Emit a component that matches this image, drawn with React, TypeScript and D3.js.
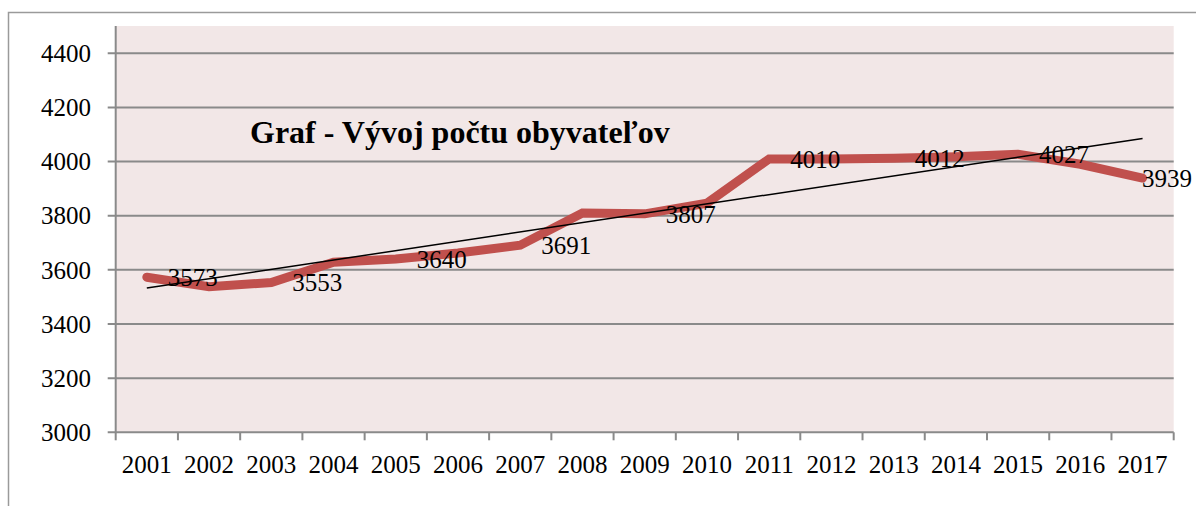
import React, { useEffect, useRef } from 'react';
import * as d3 from 'd3';

const years = ['2001', '2002', '2003', '2004', '2005', '2006', '2007', '2008', '2009',
  '2010', '2011', '2012', '2013', '2014', '2015', '2016', '2017'];
const population = [3573, 3538, 3553, 3628, 3640, 3662, 3691, 3810, 3807,
  3846, 4010, 4010, 4012, 4018, 4027, 3990, 3939];
// only every other point carries a label in the original
const labelledYears = ['2001', '2003', '2005', '2007', '2009', '2011', '2013', '2015', '2017'];
const yTicks = [3000, 3200, 3400, 3600, 3800, 4000, 4200, 4400];
const title = 'Graf - Vývoj počtu obyvateľov';

const W = 1196;
const H = 506;

export default function App() {
  const svgRef = useRef<SVGSVGElement>(null);

  useEffect(() => {
    if (!svgRef.current) return;
    const svg = d3.select(svgRef.current);
    svg.selectAll('*').remove();

    const font = '"Times New Roman", "Liberation Serif", serif';
    const gridColor = '#8a8a8a';
    const lineColor = '#c0504d';

    const plot = { left: 115.7, right: 1173.7, top: 26, bottom: 432.3 };

    const x = d3.scaleBand().domain(years).range([plot.left, plot.right]).padding(0);
    const cx = (yr: string) => x(yr)! + x.bandwidth() / 2;
    const y = d3.scaleLinear().domain([3000, 4400]).range([plot.bottom, 53.3]);

    // outer chart border (left + top visible)
    svg.append('path')
      .attr('d', `M8.5,${H} L8.5,12.5 L${W},12.5`)
      .attr('fill', 'none')
      .attr('stroke', '#9a9a9a')
      .attr('stroke-width', 1.5);

    // plot area
    svg.append('rect')
      .attr('x', plot.left)
      .attr('y', plot.top)
      .attr('width', plot.right - plot.left)
      .attr('height', plot.bottom - plot.top)
      .attr('fill', '#f2e7e7');

    // gridlines
    svg.append('g')
      .selectAll('line')
      .data(yTicks.filter(t => t > 3000))
      .enter()
      .append('line')
      .attr('x1', plot.left - 8)
      .attr('x2', plot.right)
      .attr('y1', d => y(d))
      .attr('y2', d => y(d))
      .attr('stroke', gridColor)
      .attr('stroke-width', 2);

    // y axis
    svg.append('line')
      .attr('x1', plot.left)
      .attr('x2', plot.left)
      .attr('y1', plot.top)
      .attr('y2', plot.bottom)
      .attr('stroke', gridColor)
      .attr('stroke-width', 2);

    svg.append('g')
      .selectAll('text')
      .data(yTicks)
      .enter()
      .append('text')
      .attr('x', 91)
      .attr('y', d => y(d))
      .attr('dy', '0.35em')
      .attr('text-anchor', 'end')
      .style('font-family', font)
      .style('font-size', '25px')
      .style('fill', '#000')
      .text(d => d);

    // x axis
    svg.append('line')
      .attr('x1', plot.left - 8)
      .attr('x2', plot.right)
      .attr('y1', plot.bottom)
      .attr('y2', plot.bottom)
      .attr('stroke', gridColor)
      .attr('stroke-width', 2);

    const boundaries = years.map(yr => x(yr)!).concat([plot.right]);
    svg.append('g')
      .selectAll('line')
      .data(boundaries)
      .enter()
      .append('line')
      .attr('x1', d => d)
      .attr('x2', d => d)
      .attr('y1', plot.bottom)
      .attr('y2', plot.bottom + 8)
      .attr('stroke', gridColor)
      .attr('stroke-width', 2);

    svg.append('g')
      .selectAll('text')
      .data(years)
      .enter()
      .append('text')
      .attr('x', d => cx(d))
      .attr('y', 473)
      .attr('text-anchor', 'middle')
      .style('font-family', font)
      .style('font-size', '25px')
      .style('fill', '#000')
      .text(d => d);

    // title
    svg.append('text')
      .attr('x', 250)
      .attr('y', 143)
      .style('font-family', font)
      .style('font-size', '32px')
      .style('font-weight', 'bold')
      .style('fill', '#000')
      .text(title);

    // series line
    const pts = years.map((yr, i) => ({ year: yr, value: population[i] }));
    const line = d3.line<{ year: string; value: number }>()
      .x(d => cx(d.year))
      .y(d => y(d.value));

    svg.append('path')
      .datum(pts)
      .attr('d', line)
      .attr('fill', 'none')
      .attr('stroke', lineColor)
      .attr('stroke-width', 9)
      .attr('stroke-linecap', 'round')
      .attr('stroke-linejoin', 'miter');

    // linear trendline (least squares over the series)
    const idx = population.map((_, i) => i);
    const mx = d3.mean(idx)!;
    const my = d3.mean(population)!;
    const slope = d3.sum(idx, i => (i - mx) * (population[i] - my)) / d3.sum(idx, i => (i - mx) ** 2);
    const trend = (i: number) => my + slope * (i - mx);
    svg.append('line')
      .attr('x1', cx(years[0]))
      .attr('y1', y(trend(0)))
      .attr('x2', cx(years[years.length - 1]))
      .attr('y2', y(trend(years.length - 1)))
      .attr('stroke', '#000')
      .attr('stroke-width', 1.5);

    // data labels
    svg.append('g')
      .selectAll('text')
      .data(pts.filter(p => labelledYears.includes(p.year)))
      .enter()
      .append('text')
      .attr('x', d => Math.min(cx(d.year) + 21, W - 54))
      .attr('y', d => y(d.value))
      .attr('dy', '0.35em')
      .style('font-family', font)
      .style('font-size', '25px')
      .style('fill', '#000')
      .text(d => d.value);
  }, []);

  return (
    <svg
      ref={svgRef}
      width={W}
      height={H}
      style={{ position: 'absolute', left: 0, top: 0, background: '#fff' }}
    />
  );
}
